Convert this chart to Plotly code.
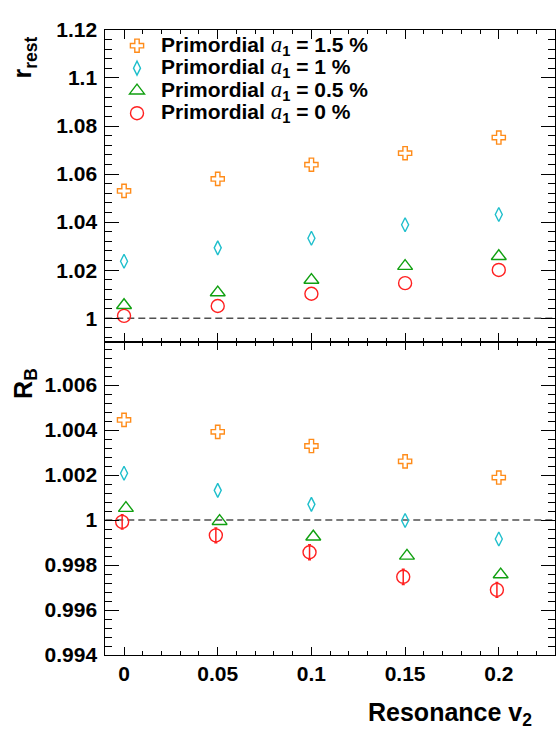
import plotly.graph_objects as go

# Resonance v2 values on the x axis
v2 = [0, 0.05, 0.1, 0.15, 0.2]

# Primordial a1 settings (legend labels)
a1_labels = ["1.5 %", "1 %", "0.5 %", "0 %"]

# r_rest for each primordial a1
r_rest_a15 = [1.0530, 1.0580, 1.0639, 1.0687, 1.0752]
r_rest_a10 = [1.0237, 1.0293, 1.0333, 1.0389, 1.0432]
r_rest_a05 = [1.0054, 1.0107, 1.0159, 1.0217, 1.0258]
r_rest_a00 = [1.0010, 1.0051, 1.0102, 1.0146, 1.0201]

# R_B for each primordial a1
RB_a15 = [1.00445, 1.00392, 1.00329, 1.00261, 1.00189]
RB_a10 = [1.00208, 1.00132, 1.00070, 0.99998, 0.99916]
RB_a05 = [1.00053, 0.99995, 0.99926, 0.99841, 0.99758]
RB_a00 = [0.99992, 0.99932, 0.99857, 0.99748, 0.99690]
RB_a00_err = [0.00032, 0.00033, 0.00033, 0.00034, 0.00033]

W, H = 556, 731
X_LEFT, X_RIGHT = 105.3, 555.0
Y_TOP, Y_MID, Y_BOT = 18.5, 341.0, 664.0

def px_x(p):
    return p / W

def px_y(p):
    return 1 - p / H

styles = [
    dict(symbol="cross-open", color="#ff8c1a", size=11, shift=0.0),
    dict(symbol="diamond-tall-open", color="#1fbfcc", size=10, shift=0.0),
    dict(symbol="triangle-up-open", color="#11a011", size=13, shift=0.001),
    dict(symbol="circle-open", color="#ff2020", size=13, shift=-0.001),
]

top_series = [r_rest_a15, r_rest_a10, r_rest_a05, r_rest_a00]
bot_series = [RB_a15, RB_a10, RB_a05, RB_a00]
bot_errors = [None, None, None, RB_a00_err]

def legend_name(label):
    return (
        '<span style="font-size:21px">Primordial '
        '<span style="font-family:\'Liberation Serif\';font-style:italic;'
        'font-weight:normal;font-size:23px">a</span>'
        '<sub>1</sub> = ' + label + '</span>'
    )

fig = go.Figure()

for lab, st, ys in zip(a1_labels, styles, top_series):
    fig.add_trace(go.Scatter(
        x=v2, y=ys, mode="markers", name=legend_name(lab),
        xaxis="x", yaxis="y",
        marker=dict(symbol=st["symbol"], size=st["size"], color=st["color"],
                    line=dict(color=st["color"], width=1.4)),
    ))

for st, ys, err in zip(styles, bot_series, bot_errors):
    xs = [v + st["shift"] for v in v2]
    kw = {}
    if err is not None:
        kw["error_y"] = dict(type="data", array=err, visible=True,
                             color=st["color"], thickness=1.5, width=1.5)
    fig.add_trace(go.Scatter(
        x=xs, y=ys, mode="markers", showlegend=False,
        xaxis="x2", yaxis="y2",
        marker=dict(symbol=st["symbol"], size=st["size"], color=st["color"],
                    line=dict(color=st["color"], width=1.4)),
        **kw,
    ))

tick_font = dict(family="Liberation Sans", size=21, color="black", weight="bold")

x_common = dict(
    range=[-0.01, 0.23], tick0=0, dtick=0.05,
    ticks="inside", tickcolor="black", tickwidth=1,
    showline=True, linecolor="black", linewidth=1, mirror="allticks",
    showgrid=False, zeroline=False,
    domain=[px_x(X_LEFT), px_x(X_RIGHT)],
    tickfont=tick_font,
)

fig.update_layout(
    width=W, height=H, autosize=False,
    margin=dict(l=0, r=0, t=0, b=0),
    paper_bgcolor="white", plot_bgcolor="white",
    xaxis=dict(**x_common, anchor="y", showticklabels=False, ticklen=9,
               minor=dict(dtick=0.01, ticks="inside", ticklen=4.5,
                          tickcolor="black", showgrid=False)),
    xaxis2=dict(**x_common, anchor="y2", showticklabels=True, ticklen=8,
                minor=dict(dtick=0.01, ticks="inside", ticklen=4,
                           tickcolor="black", showgrid=False)),
    yaxis=dict(
        range=[0.99, 1.12], tick0=1, dtick=0.02,
        domain=[px_y(Y_MID), px_y(Y_TOP)], anchor="x",
        ticks="inside", ticklen=14, tickcolor="black",
        showline=True, linecolor="black", linewidth=1, mirror="allticks",
        showgrid=False, zeroline=False, tickfont=tick_font,
        ticklabelstandoff=3,
        minor=dict(dtick=0.004, ticks="inside", ticklen=7,
                   tickcolor="black", showgrid=False),
    ),
    yaxis2=dict(
        range=[0.994, 1.0079], tick0=1, dtick=0.002,
        domain=[px_y(Y_BOT), px_y(Y_MID)], anchor="x2",
        ticks="inside", ticklen=14, tickcolor="black",
        showline=True, linecolor="black", linewidth=1, mirror="allticks",
        showgrid=False, zeroline=False, tickfont=tick_font,
        ticklabelstandoff=3,
        minor=dict(dtick=0.0004, ticks="inside", ticklen=7,
                   tickcolor="black", showgrid=False),
    ),
    legend=dict(
        x=px_x(113), y=px_y(18), xanchor="left", yanchor="top",
        bgcolor="rgba(0,0,0,0)", borderwidth=0,
        font=dict(family="Liberation Sans", size=15, color="black", weight="bold"),
        itemwidth=38,
    ),
    shapes=[
        dict(type="line", xref="x domain", x0=0, x1=1, yref="y", y0=1, y1=1,
             line=dict(color="#505050", width=1.6, dash="7px,4px"), layer="below"),
        dict(type="line", xref="x2 domain", x0=0, x1=1, yref="y2", y0=1, y1=1,
             line=dict(color="#505050", width=1.6, dash="7px,4px"), layer="below"),
    ],
    annotations=[
        dict(text="r<sub>rest</sub>", xref="paper", yref="paper",
             x=px_x(24), y=px_y(47), textangle=-90, showarrow=False,
             xanchor="center", yanchor="middle",
             font=dict(family="Liberation Sans", size=25, color="black", weight="bold")),
        dict(text="R<sub>B</sub>", xref="paper", yref="paper",
             x=px_x(25), y=px_y(384), textangle=-90, showarrow=False,
             xanchor="center", yanchor="middle",
             font=dict(family="Liberation Sans", size=25, color="black", weight="bold")),
        dict(text="Resonance v<sub>2</sub>", xref="paper", yref="paper",
             x=px_x(534), y=px_y(725), showarrow=False,
             xanchor="right", yanchor="middle",
             font=dict(family="Liberation Sans", size=25, color="black", weight="bold")),
    ],
)

fig.write_html("out.html")
